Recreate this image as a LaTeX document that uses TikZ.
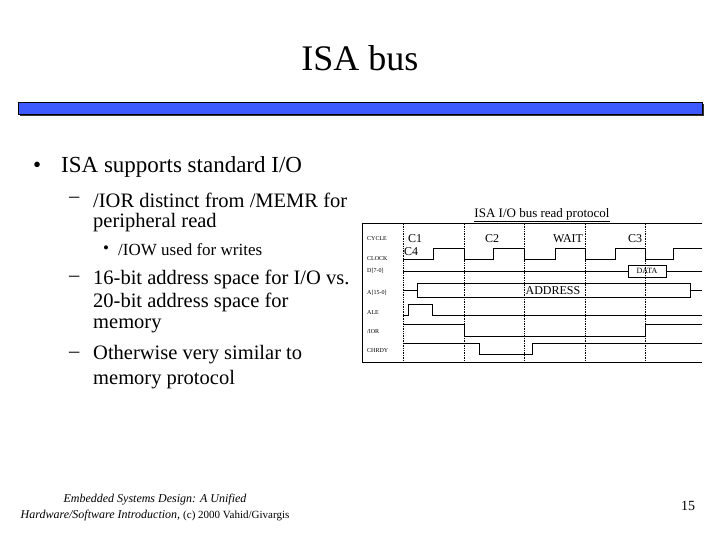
\documentclass[tikz,border=0pt]{standalone}
\usepackage{fontspec}
\setmainfont{Liberation Serif}
\begin{document}
\begin{tikzpicture}[x=1pt,y=-1pt,
  sig/.style={line width=0.8pt},
  grid/.style={densely dotted,line width=0.7pt},
  lbl/.style={font=\fontsize{6}{7}\selectfont,anchor=west,inner sep=0},
  cyc/.style={font=\fontsize{12}{13}\selectfont,inner sep=0},
  big/.style={font=\fontsize{23}{24}\selectfont,anchor=west,inner sep=0},
  mid/.style={font=\fontsize{20.5}{22}\selectfont,anchor=west,inner sep=0},
  sml/.style={font=\fontsize{17}{18}\selectfont,anchor=west,inner sep=0}]
\useasboundingbox (0,0) rectangle (720,540);
\node[font=\fontsize{36}{40}\selectfont] (title) at (360,58) {ISA bus};
\fill[black!80] (20,104) rectangle (704,116);
\draw[fill={rgb,255:red,60;green,90;blue,255},line width=0.8pt] (18,102) rectangle (702,114);
\node[big] (bb1) at (33,167) {•};
\node[big] (b1) at (61,167) {ISA supports standard I/O};
\node[mid] (dd1) at (69,200) {–};
\node[mid] (d1) at (93,200) {/IOR distinct from /MEMR for};
\node[mid] (d1b) at (93,223) {peripheral read};
\node[sml] (ss1) at (103,250) {•};
\node[sml] (s1) at (118,250) {/IOW used for writes};
\node[mid] (dd2) at (69,279) {–};
\node[mid] (d2) at (93,279) {16-bit address space for I/O vs.};
\node[mid] (d2b) at (93,302) {20-bit address space for};
\node[mid] (d2c) at (93,326) {memory};
\node[mid] (dd3) at (69,355) {–};
\node[mid] (d3) at (93,355) {Otherwise very similar to};
\node[mid] (d3b) at (93,380) {memory protocol};
\node[font=\fontsize{12}{16}\selectfont\itshape,align=center] (foot) at (155,508)
  {Embedded Systems Design: A Unified\\Hardware/Software Introduction, {\upshape\fontsize{11}{16}\selectfont (c) 2000 Vahid/Givargis}};
\node[font=\fontsize{14}{16}\selectfont] (pg) at (688,506) {15};
% timing diagram
\node[font=\fontsize{13}{15}\selectfont,inner sep=1pt] (tt) at (542,215) {\underline{ISA I/O bus read protocol}};
\draw[line width=0.8pt] (362,223) -- (702,223);
\draw[line width=0.8pt] (362,223) -- (362,362) -- (702,362);
\foreach \x in {403,464,524,585,645} \draw[grid] (\x,224) -- (\x,361);
\node[lbl] (l1) at (367,239) {CYCLE};
\node[lbl] (l2) at (367,259) {CLOCK};
\node[lbl] (l3) at (367,271) {D[7-0]};
\node[lbl] (l4) at (367,293) {A[15-0]};
\node[lbl] (l5) at (367,313) {ALE};
\node[lbl] (l6) at (367,332) {/IOR};
\node[lbl] (l7) at (367,351) {CHRDY};
\node[cyc] (c1) at (415,239) {C1};
\node[cyc] (c2) at (492,239) {C2};
\node[cyc] (cw) at (568,239) {WAIT};
\node[cyc] (c3) at (635,239) {C3};
\node[cyc] (c4) at (411,252) {C4};
\draw[sig] (403,259) -- (433,259) -- (433,248) -- (464,248) -- (464,259) -- (493,259) -- (493,248) -- (524,248) -- (524,259) -- (555,259) -- (555,248) -- (585,248) -- (585,259) -- (615,259) -- (615,248) -- (645,248) -- (645,259) -- (673,259) -- (673,248) -- (702,248);
\node[draw,line width=0.8pt,minimum width=38pt,minimum height=12pt,inner sep=0,font=\fontsize{8}{9}\selectfont] (data) at (647,271) {DATA};
\draw[sig] (403,271) -- (data.west);
\draw[sig] (data.east) -- (702,271);
\node[draw,line width=0.8pt,minimum width=273pt,minimum height=14pt,inner sep=0,font=\fontsize{12}{13}\selectfont] (addr) at (553.5,290) {};
\node[font=\fontsize{12}{13}\selectfont] (addrl) at (553,291) {ADDRESS};
\draw[sig] (403,290) -- (addr.west);
\draw[sig] (addr.east) -- (702,290);
\draw[sig] (403,315) -- (408,315) -- (408,304) -- (432,304) -- (432,315) -- (702,315);
\draw[sig] (403,324) -- (464,324) -- (464,336) -- (645,336) -- (645,324) -- (702,324);
\draw[sig] (403,343) -- (479,343) -- (479,354) -- (532,354) -- (532,343) -- (702,343);
\end{tikzpicture}
\end{document}
